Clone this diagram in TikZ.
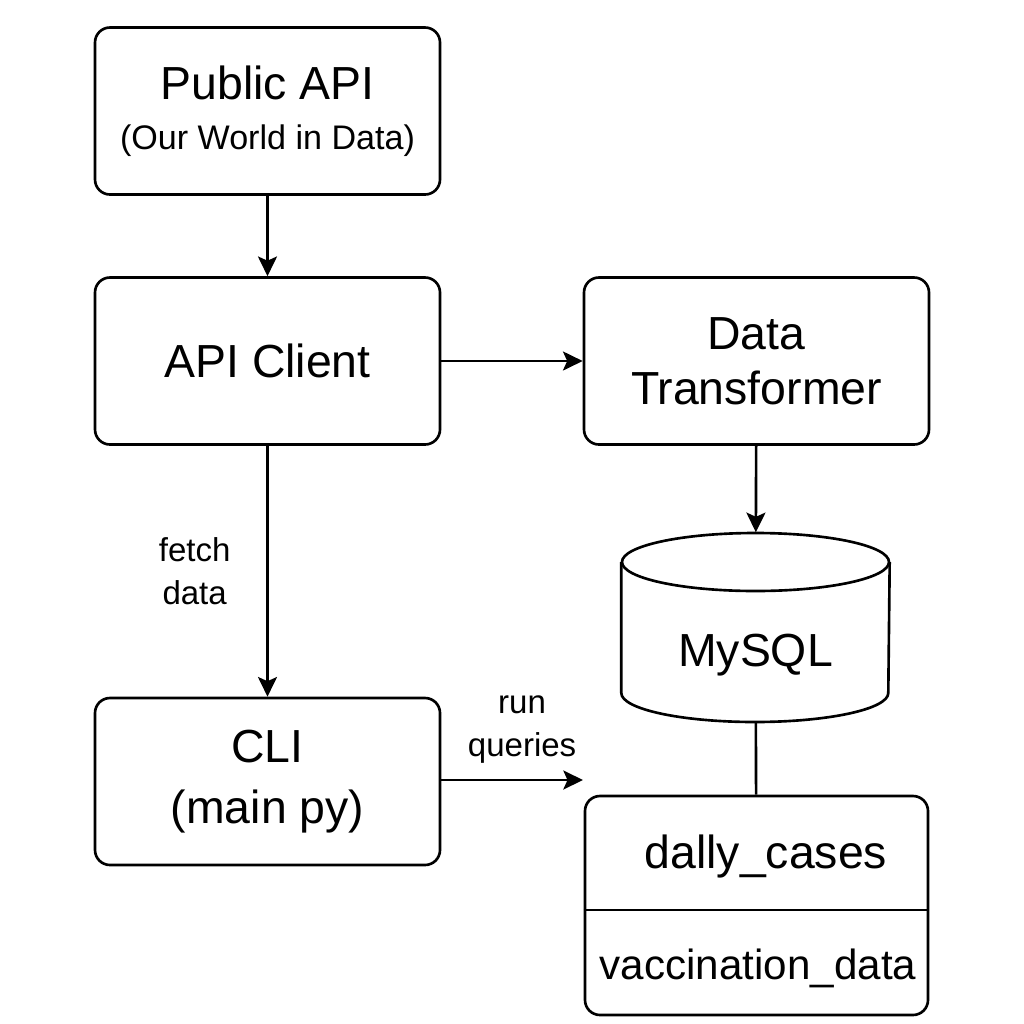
\documentclass[tikz,border=0pt]{standalone}
\usepackage{fontspec}
\setmainfont{Liberation Sans}
\usetikzlibrary{arrows.meta}

\tikzset{
  box/.style={draw, line width=0.75pt, rounded corners=0.15cm, minimum width=3.45cm, minimum height=1.67cm, align=center, font=\fontsize{13.2}{15.7}\selectfont},
  big/.style={font=\fontsize{13.2}{15.7}\selectfont, inner sep=0pt},
  note/.style={font=\fontsize{9.4}{12.4}\selectfont, align=center},
  link/.style={line width=0.75pt, -{Stealth[length=5.6pt,width=5.4pt,inset=1.2pt]}}
}

\begin{document}
\begin{tikzpicture}
\useasboundingbox (0,0) rectangle (10.24,-10.24);

% 方框
\node[box, font=\fontsize{13.2}{14.1}\selectfont] (pub) at (2.675,-1.11) {Public API\\{\fontsize{9.7}{11}\selectfont (Our World in Data)}}; % 公共接口
\node[box] (api) at (2.675,-3.61) {API Client}; % 客户端
\node[box] (dt) at (7.565,-3.61) {Data\\Transformer}; % 转换
\node[box, font=\fontsize{13.2}{16.3}\selectfont] (cli) at (2.675,-7.815) {CLI\\[1pt](main py)}; % 命令行

% 数据库 (圆柱)
\node[minimum width=2.67cm, minimum height=1.89cm, inner sep=0pt] (db) at (7.555,-6.275) {};
\draw[line width=0.75pt] (db.center |- 0,-5.62) ellipse[x radius=1.335, y radius=0.29];
\draw[line width=0.75pt] (db.west |- 0,-5.62) -- (db.west |- 0,-6.93)
  arc[start angle=180, end angle=360, x radius=1.335, y radius=0.29] -- (db.east |- 0,-5.62);
\node[big] (dbname) at (7.555,-6.55) {MySQL};

% 表
\node[box, minimum width=3.43cm, minimum height=2.19cm] (tbl) at (7.565,-9.055) {};
\draw[line width=0.75pt] (tbl.west |- 0,-9.10) -- (tbl.east |- 0,-9.10);
\node[big] (daily) at (7.66,-8.56) {dally\_cases};
\node[big, font=\fontsize{12}{14}\selectfont] (vacc) at (7.58,-9.68) {vaccination\_data};

% 连线
\coordinate (qend) at (5.83,-7.80);
\draw[link] (pub) -- (api);
\draw[link] (api) -- (dt);
\draw[link] (api) -- node[note, left=0.24cm] {fetch\\data} (cli);
\draw[link] (dt) -- (db);
\draw[line width=0.75pt] (db) -- (tbl);
\draw[link] (cli.east |- qend) -- node[note, above=1pt, pos=0.57] {run\\queries} (qend);

\end{tikzpicture}
\end{document}
